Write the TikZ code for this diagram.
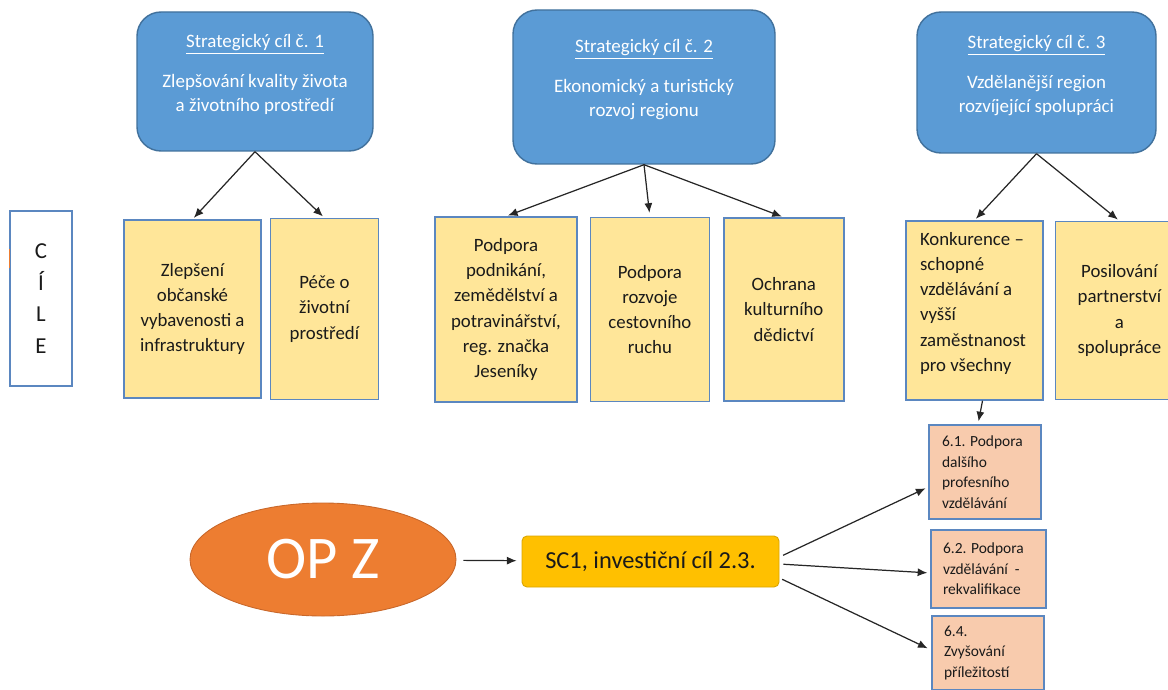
\documentclass[tikz,border=0pt]{standalone}
\usepackage{fontspec}
\setmainfont{Carlito}
\usetikzlibrary{shapes, arrows, arrows.meta, positioning, calc}

\newdimen\pxu
\pxu=0.02cm

\definecolor{goalblue}{HTML}{5B9BD5}
\definecolor{goalline}{HTML}{41719C}
\definecolor{areayellow}{HTML}{FFE699}
\definecolor{measurepink}{HTML}{F8CBAD}
\definecolor{boxline}{HTML}{5B87C0}
\definecolor{opzorange}{HTML}{ED7D31}
\definecolor{opzline}{HTML}{C8672A}
\definecolor{invyellow}{HTML}{FFC000}
\definecolor{invline}{HTML}{D9A400}
\definecolor{textdark}{HTML}{1A1A1A}
\definecolor{arrowdark}{HTML}{262626}

\begin{document}
\begin{tikzpicture}[x=0.02cm, y=-0.02cm, >={Latex[length=5.5pt, width=4.6pt]}, font=\small,
  goal/.style={draw=goalline, fill=goalblue, rounded corners=24\pxu, line width=0.8pt, text=white, align=center, font=\fontsize{10.8}{13.6}\selectfont},
  area/.style={draw=boxline, fill=areayellow, line width=0.8pt, text=textdark, align=center, font=\fontsize{10.7}{14.4}\selectfont},
  measure/.style={draw=boxline, fill=measurepink, line width=0.8pt, text=textdark, align=flush left, font=\fontsize{8.8}{11.7}\selectfont},
  link/.style={->, draw=arrowdark, line width=0.7pt}]

\useasboundingbox (0,0) rectangle (1168,689);

% strategicke cile
\node[goal, minimum width=236\pxu, minimum height=139\pxu] (SC1) at (255,81.5) {\underline{Strategický cíl č. 1}\\[9.1pt]Zlepšování kvality života\\a životního prostředí\\[-3.4pt]\mbox{}};
\node[goal, minimum width=262\pxu, minimum height=154\pxu] (SC2) at (644,87) {\underline{Strategický cíl č. 2}\\[9.1pt]Ekonomický a turistický\\rozvoj regionu\\[-3.4pt]\mbox{}};
\node[goal, minimum width=239\pxu, minimum height=141\pxu] (SC3) at (1036.5,82.5) {\underline{Strategický cíl č. 3}\\[9.1pt]Vzdělanější region\\rozvíjející spolupráci\\[-3.4pt]\mbox{}};

% CILE
\node[draw=boxline, fill=white, line width=0.8pt, minimum width=62\pxu, minimum height=175\pxu, align=center, text=textdark, font=\fontsize{13}{18.1}\selectfont] (CILE) at (41,298.5) {C\\Í\\L\\E};
\draw[opzorange, line width=0.8pt] ([yshift=-39\pxu]CILE.north west) -- ([yshift=-58\pxu]CILE.north west);

% oblasti
\node[area, minimum width=137\pxu, minimum height=178\pxu] (A1) at (192.5,309) {Zlepšení\\občanské\\vybavenosti a\\infrastruktury};
\node[area, minimum width=108\pxu, minimum height=181\pxu, right=8\pxu of A1] (A2) {Péče o\\životní\\prostředí};

\node[area, minimum width=142\pxu, minimum height=185\pxu] (C1) at (506,309.5) {Podpora\\podnikání,\\zemědělství a\\potravinářství,\\reg. značka\\Jeseníky};
\node[area, minimum width=119\pxu, minimum height=184\pxu, right=12\pxu of C1] (C2) {Podpora\\rozvoje\\cestovního\\ruchu};
\node[area, minimum width=120\pxu, minimum height=183\pxu, right=13\pxu of C2] (C3) {Ochrana\\kulturního\\dědictví};

\node[area, align=flush left, text width=109\pxu, minimum width=137\pxu, minimum height=179\pxu] (F1) at (974.5,310.5) {Konkurence –\\schopné\\vzdělávání a\\vyšší\\zaměstnanost\\pro všechny\\[-4.5pt]\mbox{}};
\node[area, minimum width=128\pxu, minimum height=178\pxu, right=11\pxu of F1] (F2) {Posilování\\partnerství\\a\\spolupráce};

% opatreni
\node[measure, text width=86\pxu, minimum width=112\pxu, minimum height=94\pxu] (M61) at (985,472) {6.1. Podpora\\dalšího\\profesního\\vzdělávání};
\node[measure, text width=91\pxu, minimum width=115\pxu, minimum height=78\pxu] (M62) at (988.5,569) {6.2. Podpora\\vzdělávání\ \ -\\rekvalifikace};
\node[measure, text width=88\pxu, minimum width=112\pxu, minimum height=74\pxu] (M64) at (988,653) {6.4.\\Zvyšování\\příležitostí};

% OP Z
\node[ellipse, draw=opzline, fill=opzorange, line width=0.5pt, minimum width=266\pxu, minimum height=113\pxu, inner sep=0pt, text=white, font=\fontsize{34.5}{40}\selectfont] (OPZ) at (323,559.5) {OP Z};
\node[draw=invline, fill=invyellow, rounded corners=5\pxu, line width=0.5pt, minimum width=257\pxu, minimum height=51\pxu, text=textdark, font=\fontsize{13.9}{16}\selectfont] (INV) at (650.5,561.5) {SC1, investiční cíl 2.3.};

% sipky
\draw[link, shorten >=2\pxu] (SC1.south) -- (A1.north);
\draw[link, shorten >=2\pxu] (SC1.south) -- (A2.north);
\draw[link, shorten >=2\pxu] (SC2.south) -- (C1.north);
\draw[link, shorten >=4\pxu] (SC2.south) -- (C2.north);
\draw[link, shorten >=2\pxu] (SC2.south) -- (C3.north);
\draw[link, shorten >=2\pxu] (SC3.south) -- (F1.north);
\draw[link, shorten >=2\pxu] (SC3.south) -- (F2.north);
\draw[link, shorten >=3\pxu] ([xshift=8\pxu]F1.south) -- ([xshift=-7\pxu]M61.north);

\draw[link, shorten <=7\pxu, shorten >=5\pxu] (OPZ) -- (INV);
\draw[link, shorten <=4\pxu, shorten >=3\pxu] ([yshift=4.5\pxu]INV.east) -- ([yshift=-15\pxu]M61.west);
\draw[link, shorten <=4\pxu, shorten >=3\pxu] ([yshift=-2.5\pxu]INV.east) -- ([yshift=-4\pxu]M62.west);
\draw[link, shorten <=3\pxu, shorten >=4\pxu] ([yshift=-16.5\pxu]INV.east) -- ([yshift=3\pxu]M64.west);

\end{tikzpicture}
\end{document}
